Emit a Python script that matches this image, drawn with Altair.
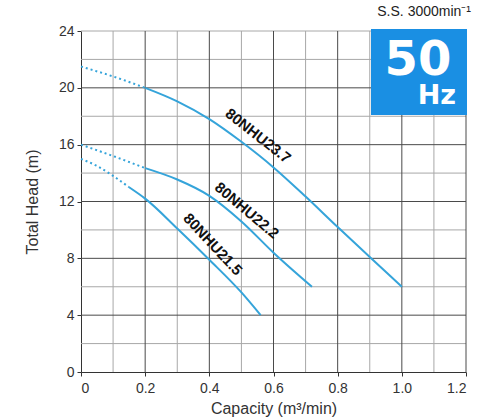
import altair as alt
import pandas as pd

# ---- data ----
s237_dot_x = [0.0, 0.1, 0.2]
s237_dot_y = [21.5, 20.8, 20.0]
s237_x = [0.2, 0.3, 0.4, 0.5, 0.6, 0.7, 0.8, 0.9, 1.0]
s237_y = [20.0, 19.05, 17.8, 16.2, 14.4, 12.35, 10.2, 8.1, 6.0]

s222_dot_x = [0.0, 0.1, 0.2]
s222_dot_y = [16.0, 15.2, 14.35]
s222_x = [0.2, 0.3, 0.4, 0.5, 0.6, 0.72]
s222_y = [14.35, 13.55, 12.4, 10.6, 8.4, 6.0]

s215_dot_x = [0.0, 0.05, 0.1, 0.15]
s215_dot_y = [15.0, 14.5, 13.8, 13.0]
s215_x = [0.15, 0.2, 0.3, 0.4, 0.5, 0.56]
s215_y = [13.0, 12.2, 10.1, 7.9, 5.6, 4.0]

label_text = ["80NHU23.7", "80NHU22.2", "80NHU21.5"]
label_x = [0.552, 0.517, 0.411]
label_y = [16.63, 11.37, 8.99]
label_angle = [38, 40, 47]

x_major = [0.2, 0.4, 0.6, 0.8, 1.0, 1.2]
x_minor = [0.1, 0.3, 0.5, 0.7, 0.9, 1.1]
y_major = [4, 8, 12, 16, 20]
y_minor = [2, 6, 10, 14, 18, 22, 24]

x_ticks = [0, 0.1, 0.2, 0.3, 0.4, 0.5, 0.6, 0.7, 0.8, 0.9, 1.0, 1.1, 1.2]
y_ticks = [0, 2, 4, 6, 8, 10, 12, 14, 16, 18, 20, 22, 24]

CURVE = "#35a4da"
FONT = "Liberation Sans"

def frame(xs, ys, name):
    return pd.DataFrame({"q": xs, "h": ys, "s": name})

solid = pd.concat([frame(s237_x, s237_y, "a"), frame(s222_x, s222_y, "b"), frame(s215_x, s215_y, "c")])
dotted = pd.concat([frame(s237_dot_x, s237_dot_y, "a"), frame(s222_dot_x, s222_dot_y, "b"), frame(s215_dot_x, s215_dot_y, "c")])
labels = pd.DataFrame({"t": label_text, "q": label_x, "h": label_y, "a": label_angle})

xs = alt.Scale(domain=[0, 1.2], nice=False, zero=False)
ys = alt.Scale(domain=[0, 24], nice=False, zero=False)

xaxis = alt.Axis(values=x_ticks, grid=False, tickSize=4, tickColor="#333", domainColor="#333",
                 labelExpr="datum.value == 0 ? '0' : (abs(datum.value*5 - round(datum.value*5)) < 0.01 ? format(datum.value, '.1f') : '')",
                 labelFontSize=14, labelColor="#333", labelFont=FONT, labelPadding=5,
                 title="Capacity (m³/min)", titleFontSize=16, titleFont=FONT, titleFontWeight="normal",
                 titleColor="#333", titlePadding=5)
yaxis = alt.Axis(values=y_ticks, grid=False, tickSize=4, tickColor="#333", domainColor="#333",
                 labelExpr="datum.value % 4 == 0 ? datum.value : ''",
                 labelFontSize=14, labelColor="#333", labelFont=FONT, labelPadding=3,
                 title="Total Head (m)", titleFontSize=16, titleFont=FONT, titleFontWeight="normal",
                 titleColor="#333", titlePadding=18)

vminor = alt.Chart(pd.DataFrame({"q": x_minor})).mark_rule(color="#a8a8a8", strokeWidth=1).encode(
    x=alt.X("q:Q", scale=xs, axis=xaxis))
vmajor = alt.Chart(pd.DataFrame({"q": x_major})).mark_rule(color="#4a4a4a", strokeWidth=1).encode(
    x=alt.X("q:Q", scale=xs))
hminor = alt.Chart(pd.DataFrame({"h": y_minor})).mark_rule(color="#a8a8a8", strokeWidth=1).encode(
    y=alt.Y("h:Q", scale=ys, axis=yaxis))
hmajor = alt.Chart(pd.DataFrame({"h": y_major})).mark_rule(color="#4a4a4a", strokeWidth=1).encode(
    y=alt.Y("h:Q", scale=ys))

solid_l = alt.Chart(solid).mark_line(color=CURVE, strokeWidth=2, interpolate="monotone").encode(
    x=alt.X("q:Q", scale=xs), y=alt.Y("h:Q", scale=ys), detail="s:N")
dotted_l = alt.Chart(dotted).mark_line(color=CURVE, strokeWidth=2, strokeDash=[2, 3], interpolate="monotone").encode(
    x=alt.X("q:Q", scale=xs), y=alt.Y("h:Q", scale=ys), detail="s:N")

lab = alt.Chart(labels).mark_text(font=FONT, fontSize=15, fontWeight="bold", color="#111",
                                  align="center", baseline="middle").encode(
    x=alt.X("q:Q", scale=xs), y=alt.Y("h:Q", scale=ys), text="t:N", angle=alt.Angle("a:Q", scale=None))

badge = alt.Chart(pd.DataFrame({"k": [1]})).mark_rect(color="#1a8fe3").encode(
    x=alt.value(290), x2=alt.value(386), y=alt.value(-2), y2=alt.value(84))
fifty = alt.Chart(pd.DataFrame({"t": ["50"]})).mark_text(font="DejaVu Sans", fontWeight="bold", fontSize=48,
                                                          color="white", align="center", baseline="alphabetic").encode(
    x=alt.value(337), y=alt.value(44), text="t:N")
hz = alt.Chart(pd.DataFrame({"t": ["Hz"]})).mark_text(font="DejaVu Sans", fontWeight="bold", fontSize=27,
                                                       color="white", align="right", baseline="alphabetic").encode(
    x=alt.value(375), y=alt.value(73), text="t:N")
ss = alt.Chart(pd.DataFrame({"t": ["S.S. 3000min⁻¹"]})).mark_text(font=FONT, fontSize=14, color="#222",
                                                                  align="right", baseline="middle").encode(
    x=alt.value(390), y=alt.value(-19), text="t:N")

chart = alt.layer(vminor, hminor, vmajor, hmajor, dotted_l, solid_l, lab, badge, fifty, hz, ss).properties(
    width=385, height=341,
    autosize=alt.AutoSizeParams(type="none"),
    padding={"left": 81, "top": 31, "right": 22, "bottom": 46},
    background="white",
).configure_view(stroke=None)

chart.save("out.html", embed_options={"renderer": "svg", "actions": False})
